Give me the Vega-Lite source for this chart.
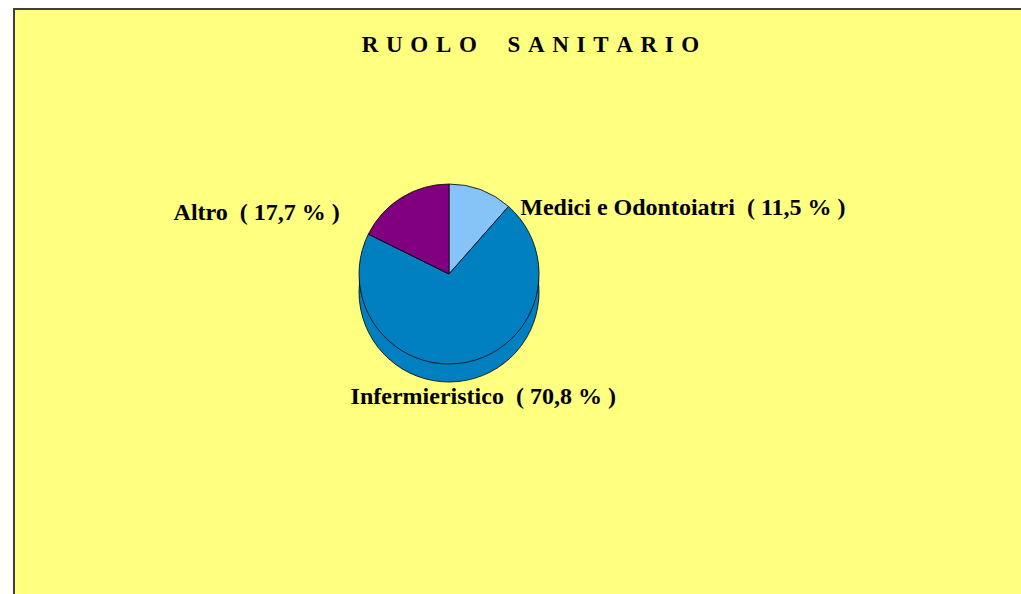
{
  "$schema": "https://vega.github.io/schema/vega-lite/v6.json",
  "autosize": "none",
  "padding": {"left": 14, "top": 9, "right": 0, "bottom": 0},
  "width": 1007,
  "height": 585,
  "background": "#FFFFFF",
  "view": {
    "fill": "#FFFF80",
    "stroke": "#404040",
    "strokeWidth": 2,
    "strokeDash": [1007, 1592, 585]
  },
  "title": {
    "text": "R\u2004U\u2004O\u2004L\u2004O\u2004\u2004\u2004\u2004S\u2004A\u2004N\u2004I\u2004T\u2004A\u2004R\u2004I\u2004O",
    "font": "Liberation Serif",
    "fontSize": 23,
    "fontWeight": "bold",
    "color": "#000000",
    "anchor": "middle",
    "frame": "group",
    "orient": "top",
    "offset": 0,
    "dx": 13,
    "dy": 48
  },
  "data": {
    "values": [
      {"ruolo": "Medici e Odontoiatri", "pct": 11.5, "ord": 1, "label": "Medici e Odontoiatri\u00a0 ( 11,5 % )"},
      {"ruolo": "Infermieristico", "pct": 70.8, "ord": 2, "label": "Infermieristico\u00a0 ( 70,8 % )"},
      {"ruolo": "Altro", "pct": 17.7, "ord": 3, "label": "Altro\u00a0 ( 17,7 % )"}
    ]
  },
  "encoding": {
    "theta": {"field": "pct", "type": "quantitative", "stack": true},
    "order": {"field": "ord", "type": "quantitative"},
    "detail": {"field": "ruolo", "type": "nominal"}
  },
  "layer": [
    {
      "mark": {"type": "arc", "outerRadius": 90, "x": {"expr": "width*0.432"}, "y": {"expr": "height*0.453+18"}, "stroke": "#000000", "strokeWidth": 0.8},
      "encoding": {
        "color": {"field": "ruolo", "type": "nominal", "scale": {"domain": ["Medici e Odontoiatri", "Infermieristico", "Altro"], "range": ["#86C4F8", "#0080C0", "#800080"]}, "legend": null}
      }
    },
    {
      "mark": {"type": "arc", "outerRadius": 90, "x": {"expr": "width*0.432"}, "y": {"expr": "height*0.453"}, "stroke": "#000000", "strokeWidth": 0.8},
      "encoding": {
        "color": {"field": "ruolo", "type": "nominal", "scale": {"domain": ["Medici e Odontoiatri", "Infermieristico", "Altro"], "range": ["#86C4F8", "#0080C0", "#800080"]}, "legend": null}
      }
    },
    {
      "mark": {"type": "text", "radius": 80, "x": {"expr": "width*0.432"}, "y": {"expr": "height*0.453"}, "align": "left", "baseline": "middle", "dx": 43, "dy": 9, "font": "Liberation Serif", "fontSize": 24, "fontWeight": "bold", "color": "#000000"},
      "encoding": {
        "text": {"condition": {"test": "datum.ruolo === 'Medici e Odontoiatri'", "field": "label"}, "value": ""}
      }
    },
    {
      "mark": {"type": "text", "radius": 80, "x": {"expr": "width*0.432"}, "y": {"expr": "height*0.453"}, "align": "right", "baseline": "middle", "dx": -67, "dy": 7, "font": "Liberation Serif", "fontSize": 24, "fontWeight": "bold", "color": "#000000"},
      "encoding": {
        "text": {"condition": {"test": "datum.ruolo === 'Altro'", "field": "label"}, "value": ""}
      }
    },
    {
      "mark": {"type": "text", "radius": 120, "x": {"expr": "width*0.432"}, "y": {"expr": "height*0.453"}, "align": "center", "baseline": "middle", "dx": 11, "dy": 5, "font": "Liberation Serif", "fontSize": 24, "fontWeight": "bold", "color": "#000000"},
      "encoding": {
        "text": {"condition": {"test": "datum.ruolo === 'Infermieristico'", "field": "label"}, "value": ""}
      }
    }
  ]
}
